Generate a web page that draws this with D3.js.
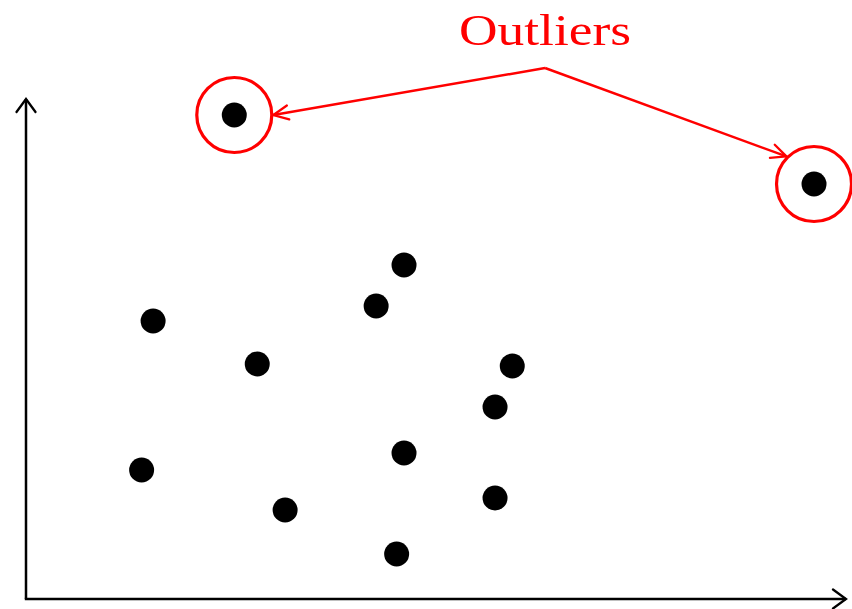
<!DOCTYPE html>
<meta charset="utf-8">
<body style="margin:0;background-color:white;">
<svg width="852" height="609"></svg>
<script src="https://d3js.org/d3.v7.min.js"></script>
<script>

// regular points (x, y in chart units 0..100)
var pointsX = [15.5, 28.2, 42.7, 46.1, 59.3, 57.2, 14.1, 46.1, 31.6, 57.2, 45.2];
var pointsY = [55.6, 47.0, 58.6, 66.8, 46.6, 38.4, 25.8, 29.2, 17.8, 20.2, 9.0];

// the two outliers
var outliersX = [25.4, 96.1];
var outliersY = [96.8, 83.0];

var labelText = "Outliers";
var labelPos = [63.3, 106.2];

var svg = d3.select("svg");

var x = d3.scaleLinear().domain([0, 100]).range([26, 846]);
var y = d3.scaleLinear().domain([0, 100]).range([599, 99]);

var defs = svg.append("defs");
function chevron(id, color, w, h) {
	defs.append("marker")
		.attr("id", id)
		.attr("markerUnits", "userSpaceOnUse")
		.attr("viewBox", "-20 -12 24 24")
		.attr("markerWidth", 24)
		.attr("markerHeight", 24)
		.attr("refX", 0)
		.attr("refY", 0)
		.attr("orient", "auto")
	  .append("path")
		.attr("d", "M" + (-w) + "," + (-h) + "L0,0L" + (-w) + "," + h)
		.attr("fill", "none")
		.attr("stroke", color)
		.attr("stroke-width", 2.3)
		.attr("stroke-linecap", "round")
		.attr("stroke-linejoin", "miter");
}
chevron("axisArrow", "black", 13, 9.5);
chevron("redArrow", "red", 15, 7);

// axes
svg.append("line")
	.attr("x1", x(0)).attr("y1", y(0))
	.attr("x2", x(0)).attr("y2", y(100))
	.attr("stroke", "black").attr("stroke-width", 2.5)
	.attr("marker-end", "url(#axisArrow)");
svg.append("line")
	.attr("x1", x(0) - 1.2).attr("y1", y(0))
	.attr("x2", x(100)).attr("y2", y(0))
	.attr("stroke", "black").attr("stroke-width", 2.5)
	.attr("marker-end", "url(#axisArrow)");

// points
var pts = pointsX.map(function(d, i) { return {x: d, y: pointsY[i]}; });
svg.append("g").selectAll("circle")
	.data(pts)
	.enter().append("circle")
	.attr("cx", function(d) { return x(d.x); })
	.attr("cy", function(d) { return y(d.y); })
	.attr("r", 12.5)
	.attr("fill", "black");

var outs = outliersX.map(function(d, i) { return {x: d, y: outliersY[i]}; });
var ringR = 37.5;
var og = svg.append("g");
og.selectAll(".ring")
	.data(outs)
	.enter().append("circle")
	.attr("class", "ring")
	.attr("cx", function(d) { return x(d.x); })
	.attr("cy", function(d) { return y(d.y); })
	.attr("r", ringR)
	.attr("fill", "none")
	.attr("stroke", "red")
	.attr("stroke-width", 3.2);
og.selectAll(".dot")
	.data(outs)
	.enter().append("circle")
	.attr("class", "dot")
	.attr("cx", function(d) { return x(d.x); })
	.attr("cy", function(d) { return y(d.y); })
	.attr("r", 12.5)
	.attr("fill", "black");

// arrows from label to the rings (angle on the ring where each arrow lands, degrees)
var hitAngle = [0, -135];
var lx = x(labelPos[0]), ly = y(labelPos[1]);
outs.forEach(function(d, i) {
	var cx = x(d.x), cy = y(d.y);
	var a = hitAngle[i] * Math.PI / 180;
	var ex = cx + Math.cos(a) * (ringR + 1.5);
	var ey = cy + Math.sin(a) * (ringR + 1.5);
	svg.append("line")
		.attr("x1", lx).attr("y1", ly)
		.attr("x2", ex).attr("y2", ey)
		.attr("stroke", "red").attr("stroke-width", 2.4)
		.attr("marker-end", "url(#redArrow)");
});

svg.append("text")
	.attr("x", lx)
	.attr("y", 45)
	.attr("text-anchor", "middle")
	.attr("fill", "red")
	.style("font-family", "'Liberation Serif', serif")
	.style("font-size", "45px")
	.attr("textLength", 172)
	.attr("lengthAdjust", "spacingAndGlyphs")
	.text(labelText);

</script>
</body>
